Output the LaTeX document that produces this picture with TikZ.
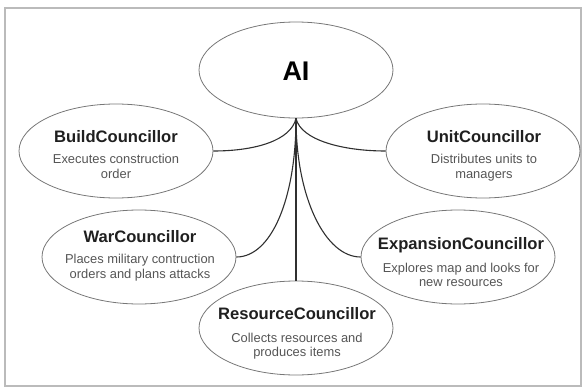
\documentclass[tikz,border=0pt]{standalone}
\usepackage{fontspec}
\setmainfont{Liberation Sans}
\usetikzlibrary{shapes.geometric}
\definecolor{edgegray}{HTML}{777777}
\definecolor{linedark}{HTML}{303030}
\definecolor{descgray}{HTML}{555555}
\definecolor{framegray}{HTML}{BBBBBB}
\tikzset{
  council/.style={ellipse, draw=edgegray, line width=0.8pt, inner sep=0pt,
    minimum width=194pt, minimum height=94pt},
  ttl/.style={anchor=base, inner sep=0pt, text=black!88,
    font=\fontsize{16.6}{18}\selectfont\bfseries},
  dsc/.style={anchor=base, inner sep=0pt, text=descgray,
    font=\fontsize{12.9}{15}\selectfont},
  link/.style={draw=linedark, line width=1.1pt}
}
\begin{document}
\begin{tikzpicture}[x=1pt,y=-1pt]
\useasboundingbox (0,0) rectangle (584,388);
\draw[framegray, line width=1.5pt] (5,8) rectangle (581,386);

\node[council, minimum width=194pt, minimum height=96pt] (ai) at (296,70) {};
\node[anchor=base, inner sep=0pt, font=\fontsize{27}{30}\selectfont\bfseries] (aitxt) at (296,80) {AI};

\node[council] (build) at (116,151) {};
\node[ttl] (buildt) at (116,142) {BuildCouncillor};
\node[dsc] (buildd1) at (116,163) {Executes construction};
\node[dsc] (buildd2) at (116,178) {order};

\node[council] (unit) at (483,151) {};
\node[ttl] (unitt) at (484,142) {UnitCouncillor};
\node[dsc] (unitd1) at (484,163) {Distributes units to};
\node[dsc] (unitd2) at (484,178) {managers};

\node[council] (war) at (139,257) {};
\node[ttl] (wart) at (140,242) {WarCouncillor};
\node[dsc] (ward1) at (140,263) {Places military contruction};
\node[dsc] (ward2) at (140,278) {orders and plans attacks};

\node[council] (exp) at (458,257) {};
\node[ttl] (expt) at (461,249) {ExpansionCouncillor};
\node[dsc] (expd1) at (461,272) {Explores map and looks for};
\node[dsc] (expd2) at (461,286) {new resources};

\node[council] (res) at (296,328) {};
\node[ttl] (rest) at (297,319) {ResourceCouncillor};
\node[dsc] (resd1) at (297,342) {Collects resources and};
\node[dsc] (resd2) at (297,356) {produces items};

\draw[link] (build.east) .. controls +(42,0) and +(-5,22) .. (ai.south);
\draw[link] (unit.west) .. controls +(-42,0) and +(5,22) .. (ai.south);
\draw[link] (war.east) .. controls +(35,0) and +(0,80) .. (ai.south);
\draw[link] (exp.west) .. controls +(-35,0) and +(0,80) .. (ai.south);
\draw[link] (ai.south) -- (res.north);
\end{tikzpicture}
\end{document}
